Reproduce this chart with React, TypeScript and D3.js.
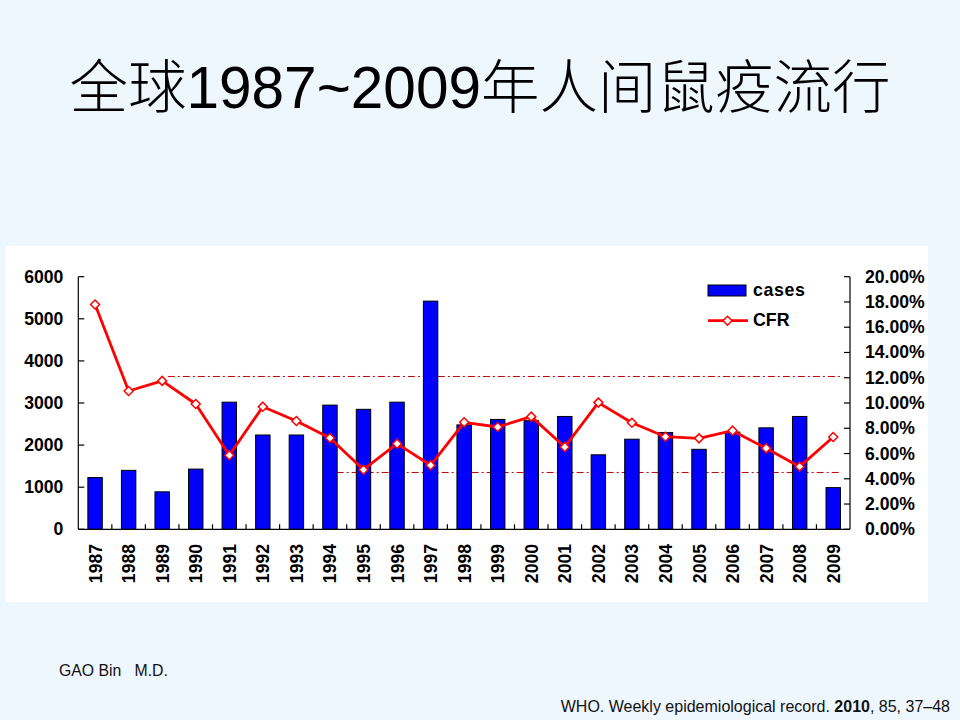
import React from "react";
import * as d3 from "d3";

const years = ["1987","1988","1989","1990","1991","1992","1993","1994","1995","1996","1997","1998","1999","2000","2001","2002","2003","2004","2005","2006","2007","2008","2009"];
const cases = [1230,1400,890,1430,3020,2240,2240,2950,2850,3020,5420,2480,2610,2580,2680,1770,2140,2300,1900,2310,2410,2680,990];
const cfr = [17.8,10.95,11.75,9.92,5.86,9.71,8.57,7.23,4.72,6.78,5.07,8.47,8.1,8.92,6.52,10.03,8.44,7.33,7.2,7.81,6.41,4.96,7.31];
const leftTicks = [0,1000,2000,3000,4000,5000,6000];
const rightTicks = [0,2,4,6,8,10,12,14,16,18,20];
// reference lines: value (%) and start/end positions in category units
const refLines = [
  { value: 12.1, from: 2.67, to: 22.74 },
  { value: 4.5, from: 7.7, to: 22.74 },
];
const titleParts = [
  { t: "全球", cjk: true },
  { t: "1987~2009", cjk: false },
  { t: "年人间鼠疫流行", cjk: true },
];

const W = 960, H = 720;
const M = { left: 78.3, right: 850, top: 276.7, bottom: 529.3 };
const latin = "'Liberation Sans', Arial, sans-serif";
const cjkFont = "'Noto Sans CJK SC', sans-serif";

export default function App() {
  const x = d3.scaleBand<string>().domain(years).range([M.left, M.right]).paddingInner(0.57).paddingOuter(0.285);
  const step = (M.right - M.left) / years.length;
  const xc = (i: number) => M.left + step * (i + 0.5);
  const xu = d3.scaleLinear().domain([0, years.length]).range([M.left, M.right]);
  const yL = d3.scaleLinear().domain([0, 6000]).range([M.bottom, M.top]);
  const yR = d3.scaleLinear().domain([0, 20]).range([M.bottom, M.top]);
  const line = d3.line<number>().x((_, i) => xc(i)).y((d) => yR(d));
  const diamond = (cx: number, cy: number, r = 4.5) =>
    `M${cx},${cy - r}L${cx + r},${cy}L${cx},${cy + r}L${cx - r},${cy}Z`;
  const fmt = d3.format(".2f");

  return (
    <svg width={W} height={H} style={{ position: "absolute", left: 0, top: 0 }}>
      <rect x={0} y={0} width={W} height={H} fill="#eef6fe" />
      <text x={480} y={108} textAnchor="middle" fontSize={58.5} fill="#000">
        {titleParts.map((p, i) => (
          <tspan key={i} fontFamily={p.cjk ? cjkFont : latin} fontWeight={p.cjk ? 300 : 400}>{p.t}</tspan>
        ))}
      </text>

      <rect x={6} y={246} width={922} height={356} fill="#ffffff" />

      {/* reference lines */}
      {refLines.map((r, i) => (
        <line key={i} x1={xu(r.from)} x2={xu(r.to)} y1={yR(r.value)} y2={yR(r.value)}
          stroke="#c00000" strokeWidth={1} strokeDasharray="7,3,2,3" />
      ))}

      {/* bars */}
      {cases.map((v, i) => (
        <rect key={years[i]} x={x(years[i])} y={yL(v)} width={x.bandwidth()} height={yL(0) - yL(v)}
          fill="#0000ff" stroke="#000" strokeWidth={1} />
      ))}

      {/* CFR line */}
      <path d={line(cfr) || ""} fill="none" stroke="#ff0000" strokeWidth={2.8} strokeLinejoin="round" />
      {cfr.map((v, i) => (
        <path key={i} d={diamond(xc(i), yR(v))} fill="#fff" stroke="#ff0000" strokeWidth={1.5} />
      ))}

      {/* axes */}
      <g stroke="#000" strokeWidth={1.2}>
        <line x1={M.left} x2={M.left} y1={M.top} y2={M.bottom} />
        <line x1={M.right} x2={M.right} y1={M.top} y2={M.bottom} />
        <line x1={M.left} x2={M.right} y1={M.bottom} y2={M.bottom} />
        {leftTicks.map((t) => (
          <line key={"l" + t} x1={M.left} x2={M.left + 6} y1={yL(t)} y2={yL(t)} />
        ))}
        {rightTicks.map((t) => (
          <line key={"r" + t} x1={M.right - 6} x2={M.right} y1={yR(t)} y2={yR(t)} />
        ))}
        {d3.range(1, years.length).map((k) => (
          <line key={"x" + k} x1={xu(k)} x2={xu(k)} y1={M.bottom} y2={M.bottom - 5} />
        ))}
      </g>

      <g fontFamily={latin} fontWeight="bold" fontSize={17.6} fill="#000">
        {leftTicks.map((t) => (
          <text key={"lt" + t} x={M.left - 15} y={yL(t)} textAnchor="end" dominantBaseline="central">{t}</text>
        ))}
        {rightTicks.map((t) => (
          <text key={"rt" + t} x={M.right + 15} y={yR(t)} textAnchor="start" dominantBaseline="central">{fmt(t)}%</text>
        ))}
        {years.map((yr, i) => (
          <text key={"y" + yr} transform={`translate(${xc(i) + 6.5},544) rotate(-90)`} textAnchor="end">{yr}</text>
        ))}
      </g>

      {/* legend */}
      <rect x={708} y={285} width={38} height={11} fill="#0000ff" stroke="#000" strokeWidth={1} />
      <line x1={708} x2={748} y1={320.7} y2={320.7} stroke="#ff0000" strokeWidth={2.8} />
      <path d={diamond(727.5, 320.7)} fill="#fff" stroke="#ff0000" strokeWidth={1.5} />
      <g fontFamily={latin} fontWeight="bold" fontSize={17.8} fill="#000">
        <text x={753} y={296} letterSpacing={0.6}>cases</text>
        <text x={753} y={326}>CFR</text>
      </g>

      {/* footnotes */}
      <text x={59} y={676} fontFamily={latin} fontSize={15.8} fill="#111" style={{ whiteSpace: "pre" }}>GAO Bin   M.D.</text>
      <text x={950} y={712} textAnchor="end" fontFamily={latin} fontSize={16} fill="#111">
        WHO. Weekly epidemiological record. <tspan fontWeight="bold">2010</tspan>, 85, 37–48
      </text>
    </svg>
  );
}
